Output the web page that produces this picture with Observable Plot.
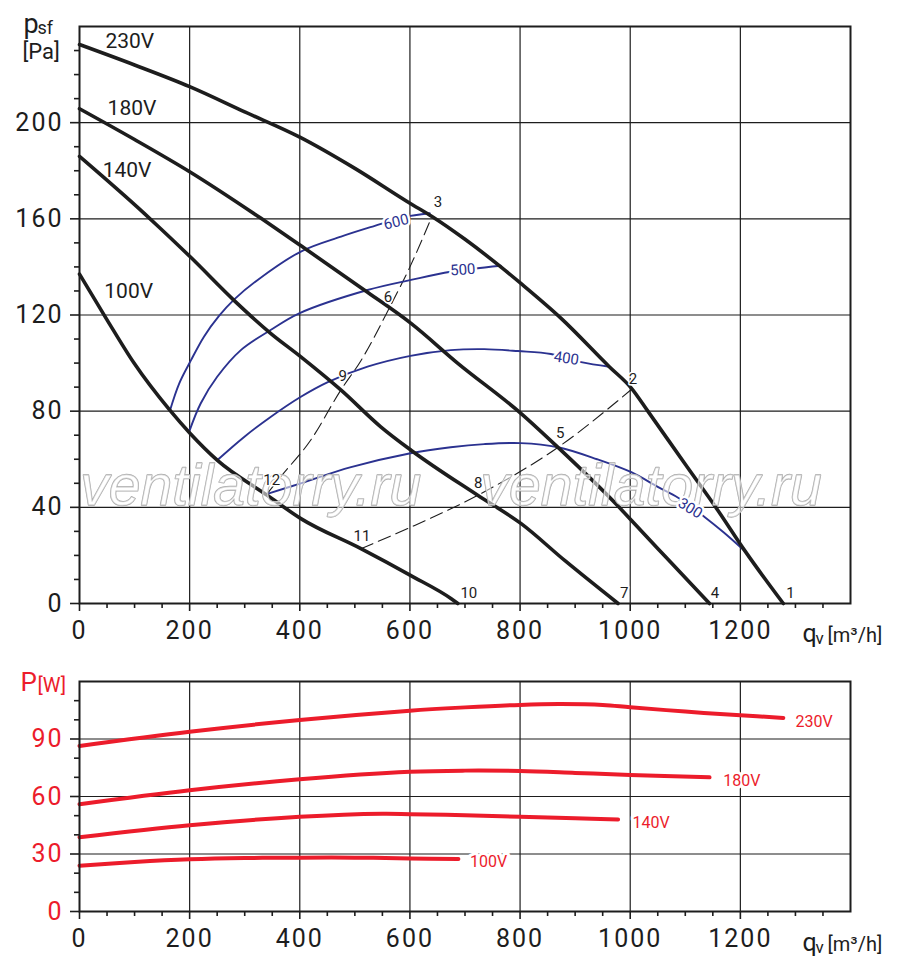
<!DOCTYPE html>
<html><head><meta charset="utf-8">
<script src="https://cdn.jsdelivr.net/npm/d3@7"></script>
<script src="https://cdn.jsdelivr.net/npm/@observablehq/plot@0.6"></script>
<style>
body{margin:0;background:#fff;}
#chart svg{display:block;}
[aria-label="x-axis tick label"] text,[aria-label="y-axis tick label"] text{letter-spacing:2px;}
</style></head><body><div id="chart"></div>
<script>
// ---------- pressure curves (q in m3/h, p in Pa) ----------
const q230 = [0,100,200,300,400,500,600,640,700,765,802,875,962,1002,1032,1099,1159,1208,1278];
const p230 = [232.5,224,215,204.5,194,181,166.5,161,151.5,140,133,118.5,98.5,89.6,80,58.2,38.8,22,0];
const q180 = [0,100,200,329,401,517,602,687,802,869,980,1002,1068,1144];
const p180 = [205.8,193,179.6,160.3,149,130.4,116.5,99.9,79,64.9,40,34.6,18.5,0];
const q140 = [0,117,147,202,281,347,402,475,547,602,723,802,881,978];
const p140 = [186,162.4,156,144,126,112.4,102.6,88.75,73.5,63.75,45,33.2,17.9,0];
const q100 = [0,50,99,164,201,250,341,402,511,601,675,687];
const p100 = [137,118,100,80.4,70.7,59.6,45,35.3,22.8,11.7,2,0];

// ---------- blue isolines ----------
const q600 = [164,181,202,226,253,281,323,402,475,535,589,636];
const p600 = [80.1,91.5,101,111,119.5,126.5,134.5,146.4,152.6,157,160.7,162.3];
const q500 = [199,220,250,293,347,399,523,602,674,765];
const p500 = [71.4,83.2,94.3,105.4,113.75,120.7,130.4,134.6,138,140.5];
const q400 = [250,299,347,402,450,523,601,674,735,796,856,911,962];
const p400 = [59.6,69.3,77.6,86,92,98.5,103,105.4,105.8,105,103.8,100.4,98.5];
const q300 = [341,402,493,601,674,735,801,869,940,1002,1050,1087,1135,1170,1207];
const p300 = [45.6,50,56.7,62.5,65,66.3,66.7,65,60,54.6,48.5,44,36,29.5,22];
const isoNames = ["600","500","400","300"];
const isoLabelQ = [575,696,884,1109];
const isoLabelP = [158.7,138.8,102,39.6];
const isoLabelRot = [-14,-4,8,32];

// ---------- dashed system lines ----------
const qDashA = [341,365,420,474.5,511,565,599,640];
const pDashA = [45.7,52.6,68,88.75,101,124,139.5,161];
const qDashB = [511,602,723,868.5,1002];
const pDashB = [22.8,31.8,45,64.9,89];

// ---------- operating point numbers ----------
const ptNames = ["1","2","3","4","5","6","7","8","9","10","11","12"];
const ptQ = [1291,1005,651,1154,873,560,989,724,478,707,513,349];
const ptP = [4.2,93.3,167.1,4.2,70.8,127.5,4.2,50,94.6,4.2,27.9,51.3];

// ---------- voltage labels ----------
const volts = ["230V","180V","140V","100V"];
const voltLabelQ = [47,51,42,45];
const voltLabelP = [231,203,177.5,127];

// ---------- power curves (P in W) ----------
const wq230 = [0,200,400,600,700,800,870,950,1000,1100,1200,1278];
const wp230 = [86.4,93.8,99.9,104.8,106.5,107.8,108.2,107.8,106.6,104.3,102.4,101];
const wq180 = [0,200,400,600,700,800,900,1000,1144];
const wp180 = [56,63.3,69,72.9,73.5,73.3,72.3,71.2,70];
const wq140 = [0,200,400,550,600,700,800,900,978];
const wp140 = [38.7,45,49.4,51,50.8,50.2,49.4,48.6,48];
const wq100 = [0,100,200,300,400,500,600,688];
const wp100 = [23.9,25.8,27.2,27.9,28.1,28.1,27.7,27.4];
const powLabelQ = [1300,1169,1004,709];
const powLabelP = [96.3,65.4,43.4,23];

// ---------- ticks ----------
const xMajor = [0,200,400,600,800,1000,1200];
const xGrid = [200,400,600,800,1000,1200];
const xMinor = [50,100,150,250,300,350,450,500,550,650,700,750,850,900,950,1050,1100,1150,1250,1300,1350];
const pMajor = [0,40,80,120,160,200];
const pGrid = [40,80,120,160,200];
const pMinor = [10,20,30,50,60,70,90,100,110,130,140,150,170,180,190,210,220,230];
const wMajor = [0,30,60,90];
const wGrid = [30,60,90];
const wMinor = [10,20,40,50,70,80,100,110];

const watermark = ["ventilatorry.ru","ventilatorry.ru"];
const wmQ = [311,1038];
const wmP = [40.8,40.8];

// ---------- build tables ----------
const series = (qs, ps, s) => qs.map((q, i) => ({q, p: ps[i], s}));
const pressure = [...series(q230,p230,"230V"),...series(q180,p180,"180V"),...series(q140,p140,"140V"),...series(q100,p100,"100V")];
const iso = [...series(q600,p600,"600"),...series(q500,p500,"500"),...series(q400,p400,"400"),...series(q300,p300,"300")];
const dashed = [...series(qDashA,pDashA,"A"),...series(qDashB,pDashB,"B")];
const power = [...series(wq230,wp230,"230V"),...series(wq180,wp180,"180V"),...series(wq140,wp140,"140V"),...series(wq100,wp100,"100V")];
const isoLab = isoNames.map((t,i)=>({t, q: isoLabelQ[i], p: isoLabelP[i], r: isoLabelRot[i]}));
const ptLab = ptNames.map((t,i)=>({t, q: ptQ[i], p: ptP[i]}));
const voltLab = volts.map((t,i)=>({t, q: voltLabelQ[i], p: voltLabelP[i]}));
const powLab = volts.map((t,i)=>({t, q: powLabelQ[i], p: powLabelP[i]}));
const wmLab = watermark.map((t,i)=>({t, q: wmQ[i], p: wmP[i]}));

const INK = "#1d1d1d", BLUE = "#2b3290", RED = "#ec1c2b";
const FONT = "Roboto, 'DejaVu Sans', sans-serif";
const fmt = d => String(d);

const topChart = Plot.plot({
  width: 900, height: 655,
  marginTop: 26, marginBottom: 52, marginLeft: 79, marginRight: 50,
  x: {domain: [0, 1400]}, y: {domain: [0, 240]},
  style: {fontFamily: FONT, color: INK, background: "white", overflow: "visible"},
  marks: [
    Plot.gridX(xGrid, {stroke: INK, strokeOpacity: 1, strokeWidth: 1.2}),
    Plot.gridY(pGrid, {stroke: INK, strokeOpacity: 1, strokeWidth: 1.2}),
    Plot.line(dashed, {x: "q", y: "p", z: "s", stroke: INK, strokeWidth: 1.1, strokeDasharray: "13,6", curve: "monotone-x"}),
    Plot.line(iso, {x: "q", y: "p", z: "s", stroke: BLUE, strokeWidth: 1.9, curve: "catmull-rom"}),
    Plot.line(pressure, {x: "q", y: "p", z: "s", stroke: INK, strokeWidth: 3.6, curve: "monotone-x"}),
    Plot.text(wmLab, {x: "q", y: "p", text: "t", fontSize: 57, fontStyle: "italic", fontFamily: "'Liberation Sans', sans-serif",
      lineAnchor: "bottom", fill: "white", fillOpacity: 0.55, stroke: "#a8a8a8", strokeWidth: 1.3}),
    Plot.text(isoLab, {x: "q", y: "p", text: "t", rotate: "r", fontSize: 15, fill: BLUE, stroke: "white", strokeWidth: 5}),
    Plot.text(ptLab, {x: "q", y: "p", text: "t", fontSize: 15, fill: INK, stroke: "white", strokeWidth: 3}),
    Plot.text(voltLab, {x: "q", y: "p", text: "t", fontSize: 21, fill: INK, textAnchor: "start", lineAnchor: "bottom"}),
    Plot.frame({stroke: INK, strokeWidth: 2}),
    Plot.axisX(xMajor, {tickSize: 8, tickPadding: 10, fontSize: 25, strokeWidth: 1.6, tickFormat: fmt, label: null}),
    Plot.axisX(xMinor, {tickSize: 5, text: null, strokeWidth: 1.6, label: null}),
    Plot.axisY(pMajor, {tickSize: 9, tickPadding: 7, fontSize: 25, strokeWidth: 1.6, tickFormat: fmt, label: null}),
    Plot.axisY(pMinor, {tickSize: 5, text: null, strokeWidth: 1.6, label: null}),
    Plot.text(["p"], {text: d => d, frameAnchor: "top-left", dx: -56, dy: 6, fontSize: 27, textAnchor: "start", lineAnchor: "bottom", fill: INK}),
    Plot.text(["sf"], {text: d => d, frameAnchor: "top-left", dx: -42, dy: 7, fontSize: 18, textAnchor: "start", lineAnchor: "bottom", fill: INK}),
    Plot.text(["[Pa]"], {text: d => d, frameAnchor: "top-left", dx: -57, dy: 32, fontSize: 22, textAnchor: "start", lineAnchor: "bottom", fill: INK}),
    Plot.text(["q"], {text: d => d, frameAnchor: "bottom-right", dx: -48, dy: 38, fontSize: 25, textAnchor: "start", lineAnchor: "bottom", fill: INK}),
    Plot.text(["v"], {text: d => d, frameAnchor: "bottom-right", dx: -35, dy: 40, fontSize: 17, textAnchor: "start", lineAnchor: "bottom", fill: INK}),
    Plot.text(["[m³/h]"], {text: d => d, frameAnchor: "bottom-right", dx: -23, dy: 38, fontSize: 20, textAnchor: "start", lineAnchor: "bottom", fill: INK})
  ]
});

const bottomChart = Plot.plot({
  width: 900, height: 319,
  marginTop: 26, marginBottom: 63, marginLeft: 79, marginRight: 50,
  x: {domain: [0, 1400]}, y: {domain: [0, 120]},
  style: {fontFamily: FONT, color: INK, background: "white", overflow: "visible"},
  marks: [
    Plot.gridX(xGrid, {stroke: INK, strokeOpacity: 1, strokeWidth: 1.2}),
    Plot.gridY(wGrid, {stroke: INK, strokeOpacity: 1, strokeWidth: 1.2}),
    Plot.line(power, {x: "q", y: "p", z: "s", stroke: RED, strokeWidth: 4, strokeLinecap: "round", curve: "catmull-rom"}),
    Plot.text(powLab, {x: "q", y: "p", text: "t", fontSize: 16, fill: RED, stroke: "white", strokeWidth: 6, textAnchor: "start", lineAnchor: "bottom"}),
    Plot.frame({stroke: INK, strokeWidth: 2}),
    Plot.axisX(xMajor, {tickSize: 8, tickPadding: 10, fontSize: 25, strokeWidth: 1.6, tickFormat: fmt, label: null}),
    Plot.axisX(xMinor, {tickSize: 5, text: null, strokeWidth: 1.6, label: null}),
    Plot.axisY(wMajor, {tickSize: 9, tickPadding: 7, fontSize: 25, fill: RED, stroke: INK, strokeWidth: 1.6, tickFormat: fmt, label: null}),
    Plot.axisY(wMinor, {tickSize: 5, text: null, strokeWidth: 1.6, label: null}),
    Plot.text(["P"], {text: d => d, frameAnchor: "top-left", dx: -59, dy: 9, fontSize: 26, textAnchor: "start", lineAnchor: "bottom", fill: RED}),
    Plot.text(["[W]"], {text: d => d, frameAnchor: "top-left", dx: -42, dy: 10, fontSize: 20, textAnchor: "start", lineAnchor: "bottom", fill: RED}),
    Plot.text(["q"], {text: d => d, frameAnchor: "bottom-right", dx: -48, dy: 39, fontSize: 25, textAnchor: "start", lineAnchor: "bottom", fill: INK}),
    Plot.text(["v"], {text: d => d, frameAnchor: "bottom-right", dx: -35, dy: 41, fontSize: 17, textAnchor: "start", lineAnchor: "bottom", fill: INK}),
    Plot.text(["[m³/h]"], {text: d => d, frameAnchor: "bottom-right", dx: -23, dy: 39, fontSize: 20, textAnchor: "start", lineAnchor: "bottom", fill: INK})
  ]
});

document.getElementById("chart").append(topChart, bottomChart);
</script></body></html>
